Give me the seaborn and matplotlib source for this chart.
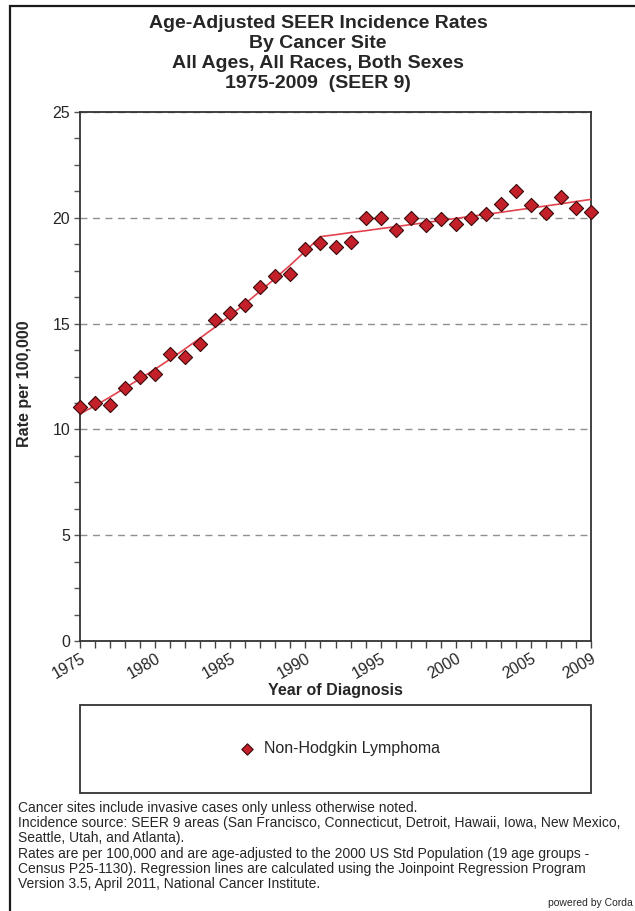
import matplotlib
matplotlib.use("Agg")
import matplotlib.pyplot as plt
import numpy as np
import pandas as pd
import seaborn as sns
from matplotlib.patches import Rectangle
from matplotlib.ticker import MultipleLocator

# Observed age-adjusted incidence rates per 100,000 (SEER 9), Non-Hodgkin Lymphoma
years = list(range(1975, 2010))
observed_rate = [
    11.08, 11.24, 11.16, 11.95, 12.50, 12.63, 13.58, 13.40, 14.04, 15.19,
    15.51, 15.90, 16.74, 17.24, 17.36, 18.54, 18.79, 18.64, 18.87, 19.98,
    19.98, 19.42, 19.98, 19.66, 19.93, 19.69, 19.98, 20.17, 20.67, 21.27,
    20.61, 20.21, 20.96, 20.48, 20.27,
]
# Joinpoint regression fitted values for each year
fitted_rate = [
    10.73, 11.12, 11.53, 11.96, 12.40, 12.85, 13.32, 13.81, 14.32, 14.84,
    15.39, 15.95, 16.54, 17.15, 17.77, 18.43, 19.11, 19.20, 19.30, 19.39,
    19.49, 19.58, 19.68, 19.77, 19.87, 19.97, 20.07, 20.16, 20.26, 20.36,
    20.46, 20.56, 20.66, 20.77, 20.87,
]
series_name = "Non-Hodgkin Lymphoma"
x_tick_labels = ["1975", "1980", "1985", "1990", "1995", "2000", "2005", "2009"]
y_ticks = [0, 5, 10, 15, 20, 25]

title_lines = [
    "Age-Adjusted SEER Incidence Rates",
    "By Cancer Site",
    "All Ages, All Races, Both Sexes",
    "1975-2009  (SEER 9)",
]
footnote_lines = [
    "Cancer sites include invasive cases only unless otherwise noted.",
    "Incidence source: SEER 9 areas (San Francisco, Connecticut, Detroit, Hawaii, Iowa, New Mexico,",
    "Seattle, Utah, and Atlanta).",
    "Rates are per 100,000 and are age-adjusted to the 2000 US Std Population (19 age groups -",
    "Census P25-1130). Regression lines are calculated using the Joinpoint Regression Program",
    "Version 3.5, April 2011, National Cancer Institute.",
]

sns.set_style("white")
plt.rcParams["font.family"] = ["Liberation Sans", "DejaVu Sans"]

W, H = 635, 911
fig = plt.figure(figsize=(W / 100, H / 100), dpi=100)
fig.patch.set_facecolor("white")


def fx(px):
    return px / W


def fy(py):
    return 1 - py / H


# outer frame of the report panel
fig.patches.append(Rectangle((fx(10), -0.1), 1.2, fy(6) + 0.1, transform=fig.transFigure,
                             fill=False, ec="#1a1a1a", lw=1.6))

ax = fig.add_axes([fx(80), fy(641), fx(591) - fx(80), fy(112) - fy(641)])

obs = pd.DataFrame({"Year": years, "Rate": observed_rate})
fit = pd.DataFrame({"Year": years, "Rate": fitted_rate})

sns.lineplot(data=fit, x="Year", y="Rate", ax=ax, color="#E2434E", lw=1.2,
             zorder=3, legend=False)
sns.scatterplot(data=obs, x="Year", y="Rate", ax=ax, marker="D", s=52,
                color="#C3202A", edgecolor="#3A0909", linewidth=0.8, zorder=4,
                label=series_name, clip_on=False)

ax.set_xlim(1975, 2009)
ax.set_ylim(0, 25)
ax.set_yticks(y_ticks)
ax.yaxis.set_minor_locator(MultipleLocator(1.25))
ax.set_xticks(years, labels=[str(y) if str(y) in x_tick_labels else "" for y in years])
for lab in ax.get_xticklabels():
    lab.set_rotation(30)
    lab.set_ha("right")
    lab.set_va("top")
    lab.set_rotation_mode("anchor")

ax.grid(axis="y", which="major", color="#8f8f8f", lw=1.0, ls=(0, (5, 4)))
ax.set_axisbelow(True)
ax.tick_params(axis="y", which="both", direction="out", length=4, width=1,
               color="#555555", labelsize=11.5, pad=3, left=True)
ax.tick_params(axis="x", which="major", direction="out", length=5, width=1,
               color="#444444", labelsize=11.5, pad=2, bottom=True)
for sp in ax.spines.values():
    sp.set_color("#333333")
    sp.set_linewidth(1.3)
ax.set_xlabel("")
ax.set_ylabel("")

fig.text(fx(335.5), fy(690), "Year of Diagnosis", ha="center", va="center",
         fontsize=11.5, fontweight="bold")
fig.text(fx(25), fy(384), "Rate per 100,000", ha="center", va="center",
         rotation=90, fontsize=11.5, fontweight="bold")

for i, line in enumerate(title_lines):
    fig.text(fx(318), fy(23 + 20 * i), line, ha="center", va="center",
             fontsize=14, fontweight="bold")

# legend panel
fig.patches.append(Rectangle((fx(80), fy(793)), fx(591) - fx(80), fy(705) - fy(793),
                             transform=fig.transFigure, fill=False, ec="#333333", lw=1.3))
handles, labels = ax.get_legend_handles_labels()
if ax.get_legend() is not None:
    ax.get_legend().remove()
fig.legend(handles, labels, loc="center", bbox_to_anchor=(fx(335.5), fy(749)),
           frameon=False, fontsize=11.5, handletextpad=0.1, markerscale=0.8)

for i, line in enumerate(footnote_lines):
    fig.text(fx(18), fy(808 + 15.2 * i), line, ha="left", va="center", fontsize=10)

fig.text(fx(633), fy(903), "powered by Corda", ha="right", va="center", fontsize=7.5)

fig.savefig("out.png", dpi=100)
